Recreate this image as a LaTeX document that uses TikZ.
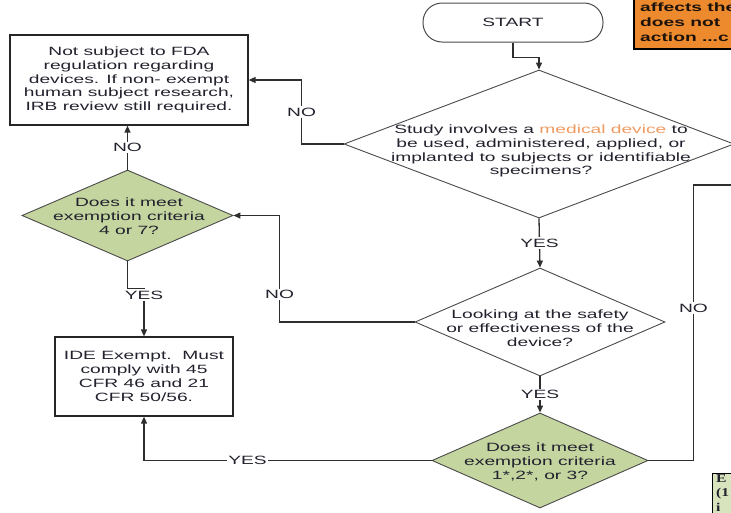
\documentclass[tikz,border=0pt]{standalone}
\usepackage{fontspec}
\setmainfont{Liberation Sans}[FakeStretch=1.6]
\newfontfamily\notefont{Liberation Serif}[FakeStretch=1.3]
\usetikzlibrary{shapes.geometric,arrows.meta}

\definecolor{ink}{HTML}{22222E}
\definecolor{wirecol}{HTML}{2E2E2E}
\definecolor{edgecol}{HTML}{4A4A4A}
\definecolor{sage}{HTML}{C5D5A0}
\definecolor{notegreen}{HTML}{D7E4BD}
\definecolor{flagorange}{HTML}{EE8A2E}
\definecolor{devicetext}{HTML}{F09A60}

\begin{document}
\begin{tikzpicture}[x=1pt,y=-1pt,
  font=\fontsize{12}{13.8}\selectfont, text=ink,
  decision/.style={diamond, draw=edgecol, line width=0.9pt, inner sep=0pt},
  terminal/.style={rectangle, rounded corners=19pt, draw=edgecol, line width=1pt,
                   minimum width=180pt, minimum height=39pt},
  resultbox/.style={rectangle, draw=black!85, line width=1.2pt, align=center, inner sep=2pt},
  qtext/.style={align=center, inner sep=0pt},
  wire/.style={draw=wirecol, line width=1.3pt},
  arr/.style={wire, -{Triangle[length=7pt,width=6pt]}},
  lbl/.style={fill=white, inner sep=1.5pt, text=ink}
]
\useasboundingbox (0,0) rectangle (731,512);
\clip (0,0) rectangle (731,512);

% side notes, partly outside the page
\node[rectangle, fill=flagorange, draw=black, line width=1.5pt, anchor=north west,
      minimum width=130pt, minimum height=58pt] (flag) at (633,-10) {};
\node[anchor=west, align=left, inner sep=0pt, text=black!85!brown,
      font=\bfseries\fontsize{12}{15}\selectfont] (flagtext) at (640,22)
      {affects the\\does not\\action ...c};
\node[rectangle, fill=notegreen, draw=black, line width=1.4pt, anchor=north west,
      minimum width=60pt, minimum height=60pt] (note) at (712,473) {};
\node[anchor=north west, align=left, inner sep=0pt,
      font=\notefont\bfseries\fontsize{12}{14.5}\selectfont] (notetext) at (716,474)
      {E\\(1\\i};

% flow nodes
\node[terminal] (start) at (513,22.5) {START};

\node[decision, minimum width=390pt, minimum height=148pt] (d1) at (539,144) {};
\node[qtext] (d1t) at (541,151)
  {Study involves a \textcolor{devicetext}{medical device} to\\
   be used, administered, applied, or\\
   implanted to subjects or identifiable\\
   specimens?};

\node[resultbox, minimum width=238pt, minimum height=90pt] (nosub) at (129,80)
  {Not subject to FDA\\regulation regarding\\devices. If non- exempt\\
   human subject research,\\IRB review still required.};

\node[decision, fill=sage, minimum width=211pt, minimum height=91pt] (g1) at (127.5,215.5) {};
\node[qtext] (g1t) at (129,216) {Does it meet\\exemption criteria\\4 or 7?};

\node[decision, minimum width=250pt, minimum height=108pt] (d3) at (540,322) {};
\node[qtext] (d3t) at (540,328) {Looking at the safety\\or effectiveness of the\\device?};

\node[decision, fill=sage, minimum width=216pt, minimum height=95pt] (d4) at (540,460.5) {};
\node[qtext] (d4t) at (540,462) {Does it meet\\exemption criteria\\1*,2*, or 3?};

\node[resultbox, minimum width=178pt, minimum height=79pt] (ide) at (144,376.5)
  {IDE Exempt.\ \ Must\\comply with 45\\CFR 46 and 21\\CFR 50/56.};

\coordinate (offright) at (745,185);

% connectors
\draw[arr] (start.south) -- ++(0,15) -| (d1.north);
\draw[arr] (d1.west) -- ++(-42,0) |- node[lbl, pos=0.25] {NO} (nosub.east);
\draw[arr] (d1.south) -- node[lbl] {YES} (d3.north);
\draw[arr] (g1.north) -- node[lbl] {NO} (g1.north |- nosub.south);
\draw[arr] (d3.west) -- ++(-135,0) |- node[lbl, pos=0.13] {NO} (g1.east);
\draw[arr] (d3.south) -- node[lbl] {YES} (d4.north);
\draw[arr] (d4.west) -| node[lbl, pos=0.32] {YES} (ide.south);
\draw[arr] (g1.south) -- ++(0,27) -| node[lbl, pos=0.57] {YES} (ide.north);
\draw[wire] (d4.east) -- ++(45,0) |- node[lbl, pos=0.277] {NO} (offright);
\end{tikzpicture}
\end{document}
